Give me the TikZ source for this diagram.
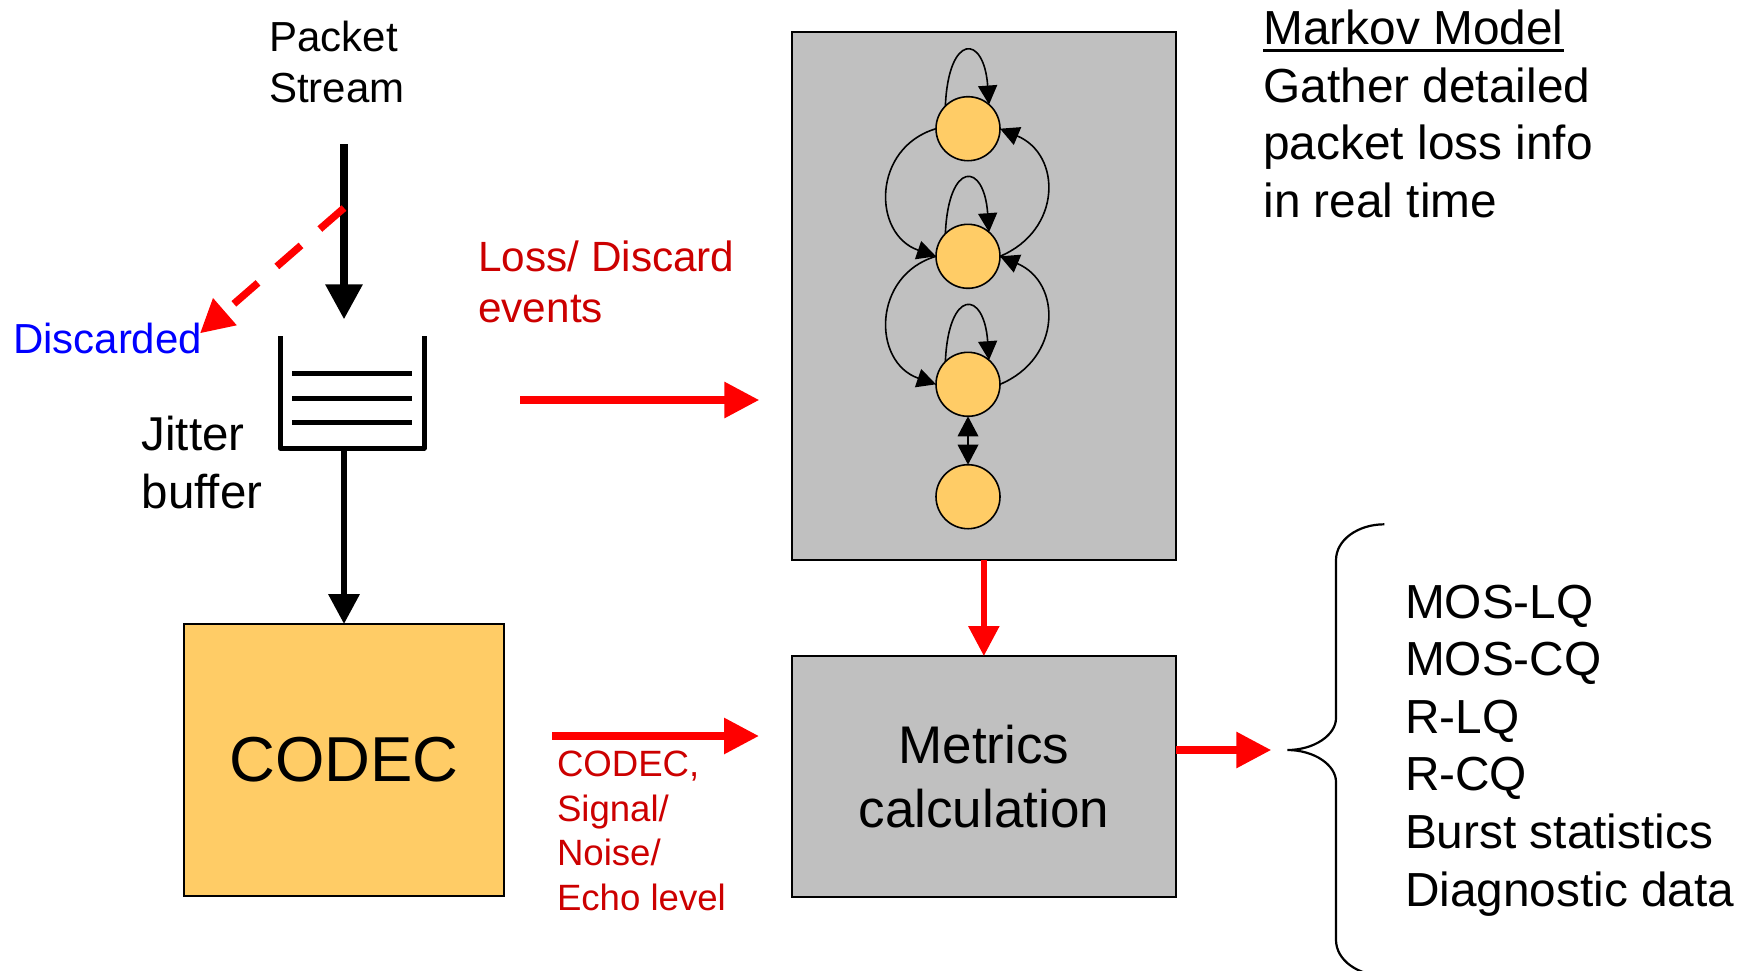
\documentclass[tikz,border=0pt]{standalone}
\usepackage{fontspec}
\setmainfont{Liberation Sans}
\usetikzlibrary{arrows.meta}
\definecolor{statefill}{RGB}{255,204,102}
\definecolor{panelgray}{RGB}{192,192,192}
\definecolor{labelred}{RGB}{204,0,0}
\newcommand\fsz[2]{\fontsize{#1pt}{#2pt}\selectfont}
\begin{document}
\begin{tikzpicture}[x=1pt,y=-1pt,
  lbl/.style={inner sep=0pt, outer sep=0pt, align=left},
  panel/.style={draw=black, line width=2pt, inner sep=0pt, outer sep=0pt},
  state/.style={circle, draw=black, line width=1.6pt, fill=statefill,
    minimum size=64pt, inner sep=0pt, outer sep=0pt},
  bufwall/.style={draw=black, line width=5pt, line join=round},
  bufline/.style={draw=black, line width=5.5pt},
  feedarrow/.style={draw=black, line width=7.3pt, -{Triangle[length=35pt,width=35.7pt]}},
  outarrow/.style={draw=black, line width=6.5pt, -{Triangle[length=30pt,width=30pt]}},
  discardarrow/.style={draw=red, line width=7.3pt, dash pattern=on 32pt off 25pt,
    -{Triangle[length=33pt,width=34pt]}},
  redflow/.style={draw=red, line width=7.6pt, -{Triangle[length=35pt,width=34.5pt]}},
  redflowthin/.style={draw=red, line width=5.7pt, -{Triangle[length=30pt,width=30pt]}},
  transition/.style={draw=black, line width=1.6pt, -{Triangle[length=19pt,width=19pt]}},
  bothways/.style={draw=black, line width=2pt,
    {Triangle[length=20pt,width=20.5pt]}-{Triangle[length=20pt,width=20.5pt]}},
  braceline/.style={draw=black, line width=2.2pt}
]
\useasboundingbox (0,0) rectangle (1737,970);

% ---------- labels ----------
\node[lbl, anchor=north west, font=\fsz{42}{51.3}] (stream) at (269.3,21) {Packet\\Stream};
\node[lbl, anchor=base west, font=\fsz{42}{50}, text=blue] (disc) at (13,353.7) {Discarded};
\node[lbl, anchor=north west, font=\fsz{47.5}{57.6}] (jlabel) at (141.7,416.5) {Jitter\\buffer};
\node[lbl, anchor=north west, font=\fsz{42.3}{50.7}, text=labelred] (losslbl) at (478.3,240.8) {Loss/ Discard\\events};
\node[lbl, anchor=north west, font=\fsz{36.6}{44.8}, text=labelred] (codeclbl) at (557,750.8) {CODEC,\\Signal/\\Noise/\\Echo level};
\node[lbl, anchor=base west, font=\fsz{47.8}{57.5}] (mtitle) at (1263.4,44.3) {Markov Model};
\draw[line width=3pt] ([yshift=-6.5pt]mtitle.base west) -- ([yshift=-6.5pt]mtitle.base east);
\node[lbl, anchor=north west, font=\fsz{47.8}{57.5}] (mtext) at (1263.4,67.5) {Gather detailed\\packet loss info\\in real time};
\node[lbl, anchor=north west, font=\fsz{47.8}{57.6}] (metlist) at (1405,584.8)
  {MOS-LQ\\MOS-CQ\\R-LQ\\R-CQ\\Burst statistics\\Diagnostic data};

% ---------- blocks ----------
\node[panel, fill=statefill, minimum width=320pt, minimum height=271.7pt,
  font=\fsz{63.5}{70}] (codec) at (344,759.9) {CODEC};
\node[panel, fill=panelgray, minimum width=384.3pt, minimum height=527.7pt] (markov) at (983.85,296.15) {};
\node[panel, fill=panelgray, minimum width=384.3pt, minimum height=240.7pt,
  align=center, font=\fsz{53}{64}] (metrics) at (983.85,776.35) {Metrics\\calculation};

% ---------- jitter buffer ----------
\node[minimum width=144pt, minimum height=112pt, inner sep=0pt, outer sep=0pt] (buf) at (352,392) {};
\draw[bufwall] (buf.north west) -- (buf.south west) -- (buf.south east) -- (buf.north east);
\foreach \dy in {37.3,62.3,86.7}
  \draw[bufline] ([shift={(12,\dy)}]buf.north west) -- ([shift={(132,\dy)}]buf.north west);

% ---------- Markov chain ----------
\node[state] (s1) at (968,128.7) {};
\node[state] (s2) at (968,256.3) {};
\node[state] (s3) at (968,384.3) {};
\node[state] (s4) at (968,496.7) {};
\foreach \s in {s1,s2,s3}
  \draw[transition] (\s.135) .. controls +(3,-73) and +(-5,-71) .. (\s.49);
\draw[transition] (s1.west) .. controls +(-64,19) and +(-64,-22) .. (s2.west);
\draw[transition] (s2.west) .. controls +(-64,19) and +(-64,-22) .. (s3.west);
\draw[transition] (s2.east) .. controls +(62,-26) and +(62,26) .. (s1.east);
\draw[transition] (s3.east) .. controls +(62,-26) and +(62,26) .. (s2.east);
\draw[bothways] (s3.south) -- (s4.north);

% ---------- packet flow ----------
\coordinate (feed) at (344,144);
\coordinate (split) at (344,208);
\coordinate (disctip) at (200,333.3);
\draw[feedarrow, shorten >=16.7pt] (feed) -- (feed |- buf.north);
\draw[discardarrow] (split) -- (disctip);
\draw[outarrow] (codec.north |- buf.south) -- (codec.north);

% ---------- event / metric flows ----------
\coordinate (lossstart) at (520,400);
\draw[redflow, shorten >=32.4pt] (lossstart) -- (lossstart -| markov.west);
\draw[redflowthin] (markov.south) -- (metrics.north);
\coordinate (csig) at (552,736);
\draw[redflow, shorten >=32.7pt] (csig) -- (csig -| metrics.west);
\coordinate (brtip) at (1287.3,750);
\draw[redflow, shorten >=16pt] (brtip -| metrics.east) -- (brtip);

% ---------- brace ----------
\draw[braceline] (1384.3,524.3) .. controls (1357.8,524.3) and (1336,540) .. (1336,560)
  -- (1336,718) .. controls (1336,735) and (1314.2,750) .. (brtip)
  .. controls (1314.2,750) and (1336,765) .. (1336,782)
  -- (1336,940) .. controls (1336,960) and (1357.8,975.7) .. (1384.3,975.7);
\end{tikzpicture}
\end{document}
